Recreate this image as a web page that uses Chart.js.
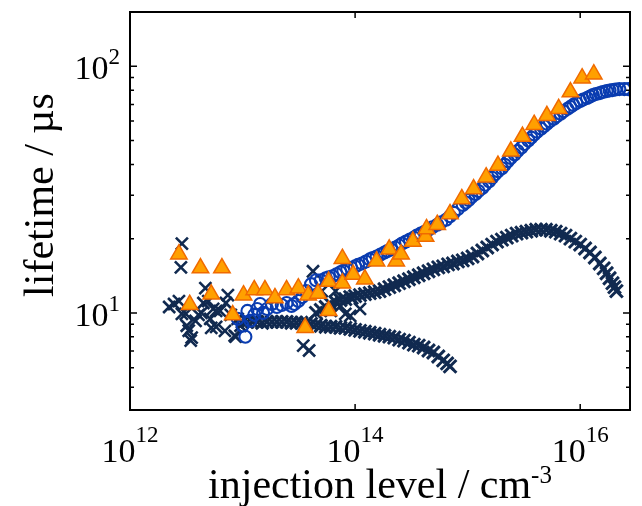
<!DOCTYPE html>
<html>
<head>
<meta charset="utf-8">
<script src="https://cdn.jsdelivr.net/npm/chart.js@4.4.1/dist/chart.umd.min.js"></script>
<style>
  html, body { margin: 0; padding: 0; background: #fff; }
  canvas { display: block; }
</style>
</head>
<body>
<canvas id="lifetimeChart" width="642" height="506"></canvas>
<script>
// orange triangles
var triX = [2.72e12, 3.39e12, 4.23e12, 5.27e12, 6.56e12, 8.18e12, 1.02e13, 1.27e13, 1.58e13, 1.94e13,
    2.46e13, 3.13e13, 3.83e13, 3.60e13, 4.68e13, 5.82e13, 5.82e13, 7.71e13, 7.71e13, 9.61e13,
    1.22e14, 1.55e14, 2.01e14, 2.32e14, 2.56e14, 3.26e14, 4.23e14, 4.31e14, 5.37e14, 6.97e14,
    8.87e14, 1.13e15, 1.46e15, 1.86e15, 2.42e15, 3.07e15, 3.90e15, 5.06e15, 6.44e15, 8.19e15,
    1.04e16, 1.32e16];
var triY = [17.3, 10.8, 15.2, 11.9, 15.2, 9.8, 11.8, 12.4, 12.4, 11.5,
    12.4, 12.6, 11.8, 8.7, 12.0, 13.4, 10.2, 16.6, 13.2, 14.3,
    13.7, 16.2, 18.1, 16.2, 17.3, 19.5, 20.4, 21.9, 22.8, 25.2,
    29.0, 31.8, 35.5, 39.6, 45.2, 51.9, 58.0, 63.0, 67.2, 78.6,
    89.5, 92.9];

// blue open circles
var circX = [9.05e12, 1.0e13, 1.06e13, 1.105e13, 1.174e13, 1.272e13, 1.35e13, 1.434e13, 1.522e13, 1.65e13,
    1.824e13, 2.016e13, 2.228e13, 2.462e13, 2.722e13, 2.891e13, 3.131e13, 3.392e13, 3.675e13, 4.062e13,
    4.489e13, 4.962e13, 5.484e13, 6.31e13, 7.406e13, 8.518e13, 1.0e14, 1.151e14, 1.35e14, 1.553e14,
    1.824e14, 2.098e14, 2.462e14, 2.833e14, 3.325e14, 3.823e14, 4.489e14, 5.376e14, 6.438e14, 7.554e14,
    9.05e14, 1.02e15, 1.174e15, 1.35e15, 1.553e15, 1.752e15, 2.016e15, 2.273e15, 2.615e15, 3.009e15,
    3.461e15, 3.903e15, 4.489e15, 5.062e15, 5.825e15, 6.70e15, 7.709e15, 8.694e15, 1.0e16, 1.151e16,
    1.297e16, 1.493e16, 1.717e16, 1.936e16, 2.228e16, 2.462e16, 2.668e16,
    5.825e13, 6.836e13, 7.864e13, 9.231e13, 1.062e14, 1.246e14, 1.434e14, 1.684e14, 1.936e14, 2.273e14,
    2.615e14, 3.069e14, 3.530e14, 4.144e14, 4.863e14, 5.825e14, 6.975e14, 8.185e14, 9.608e14, 1.083e15,
    1.246e15, 1.434e15, 1.650e15, 1.861e15, 2.140e15, 2.414e15, 2.777e15, 3.194e15, 3.675e15, 4.144e15,
    4.768e15, 5.376e15, 6.184e15, 7.115e15, 8.185e15, 9.231e15, 1.062e16, 1.222e16, 1.377e16, 1.585e16,
    1.824e16, 2.056e16];
var circY = [9.46, 8.87, 8.01, 10.19, 9.29, 9.82, 10.38, 10.87, 10.0, 10.38,
    10.87, 10.57, 10.77, 10.97, 10.67, 10.87, 11.17, 11.59, 12.26, 13.08,
    13.57, 13.57, 13.82, 14.08, 14.61, 15.02, 15.44, 15.87, 16.48, 16.94,
    17.58, 18.07, 18.76, 19.46, 20.20, 20.96, 21.75, 22.78, 23.86, 25.45,
    27.41, 28.71, 30.34, 32.07, 34.21, 36.50, 38.58, 41.17, 43.92, 46.85,
    49.99, 52.84, 55.85, 58.50, 61.26, 64.16, 67.20, 69.74, 72.36, 74.35,
    76.44, 77.87, 79.33, 80.07, 80.82, 80.82, 80.82,
    13.95, 14.34, 14.81, 15.23, 15.66, 16.17, 16.71, 17.26, 17.82, 18.41,
    19.10, 19.83, 20.57, 21.35, 22.25, 23.30, 24.64, 26.40, 28.04, 29.50,
    31.19, 33.11, 35.33, 37.52, 39.85, 42.51, 45.35, 48.39, 51.38, 54.31,
    57.14, 59.85, 62.68, 65.66, 68.45, 71.03, 73.37, 75.43, 77.19, 78.63,
    79.73, 80.47];

// navy crosses: scattered low-injection points
var crossScatterX = [2.228e12, 2.462e12, 2.722e12, 3.131e12, 3.325e12, 3.53e12, 3.823e12, 4.062e12, 4.489e12, 4.673e12,
    5.164e12, 5.484e12, 5.825e12, 6.31e12, 7.115e12, 7.406e12, 7.864e12, 8.694e12, 9.05e12, 2.891e12,
    2.833e12, 4.227e13, 3.461e13, 3.903e13, 6.70e13, 8.185e13, 9.416e13,
    2.891e12, 3.194e12, 3.461e12, 4.313e12, 5.27e12, 5.825e12, 6.975e12, 8.518e12, 9.608e12, 4.962e12,
    6.062e13, 7.406e13, 9.047e13, 1.105e14, 5.062e13];
var crossScatterY = [10.57, 10.87, 11.17, 9.91, 8.47, 7.94, 9.29, 9.82, 10.97, 12.60,
    9.46, 10.38, 8.78, 10.19, 10.97, 11.81, 9.82, 8.01, 9.46, 19.10,
    15.30, 14.75, 7.37, 7.04, 12.26, 9.91, 11.49,
    9.91, 8.87, 7.72, 10.0, 8.70, 10.19, 8.46, 8.08, 8.87, 11.17,
    10.19, 10.67, 9.73, 10.38, 12.26];

// navy crosses: decreasing branch
var crossLowX = [1.0e13, 1.105e13, 1.222e13, 1.350e13, 1.493e13, 1.650e13, 1.824e13, 2.016e13, 2.228e13, 2.462e13,
    2.722e13, 3.009e13, 3.325e13, 3.675e13, 4.062e13, 4.489e13, 4.962e13, 5.484e13, 6.062e13, 6.700e13,
    7.406e13, 8.185e13, 9.047e13, 1.0e14, 1.105e14, 1.222e14, 1.350e14, 1.493e14, 1.650e14, 1.824e14,
    2.016e14, 2.228e14, 2.462e14, 2.722e14, 3.009e14, 3.325e14, 3.675e14, 4.062e14, 4.489e14, 4.962e14,
    5.484e14, 6.062e14, 6.568e14, 6.975e14];
var crossLowY = [9.20, 9.20, 9.20, 9.20, 9.12, 9.20, 9.20, 9.20, 9.20, 9.20,
    9.12, 9.12, 9.12, 9.12, 9.03, 8.95, 8.87, 8.79, 8.79, 8.79,
    8.70, 8.70, 8.62, 8.54, 8.46, 8.39, 8.31, 8.24, 8.16, 8.08,
    8.01, 7.94, 7.79, 7.72, 7.58, 7.44, 7.37, 7.24, 7.04, 6.91,
    6.66, 6.42, 6.24, 6.07];

// navy crosses: rising branch with maximum
var crossHighX = [4.489e13, 4.962e13, 5.484e13, 6.062e13, 6.700e13, 7.406e13, 8.185e13, 9.047e13, 1.0e14, 1.105e14,
    1.222e14, 1.350e14, 1.493e14, 1.650e14, 1.824e14, 2.016e14, 2.228e14, 2.462e14, 2.722e14, 3.009e14,
    3.325e14, 3.675e14, 4.062e14, 4.489e14, 4.962e14, 5.484e14, 6.062e14, 6.700e14, 7.406e14, 8.185e14,
    9.047e14, 1.0e15, 1.105e15, 1.222e15, 1.350e15, 1.493e15, 1.650e15, 1.824e15, 2.016e15, 2.228e15,
    2.462e15, 2.722e15, 3.009e15, 3.325e15, 3.675e15, 4.062e15, 4.489e15, 4.962e15, 5.484e15, 6.062e15,
    6.700e15, 7.406e15, 8.185e15, 9.047e15, 1.0e16, 1.105e16, 1.222e16, 1.350e16, 1.493e16, 1.617e16,
    1.717e16, 1.824e16, 1.936e16, 2.016e16, 2.098e16];
var crossHighY = [10.00, 10.28, 10.57, 10.87, 11.07, 11.28, 11.38, 11.59, 11.70, 11.81,
    11.92, 12.03, 12.14, 12.26, 12.48, 12.72, 12.95, 13.20, 13.44, 13.69,
    13.95, 14.21, 14.48, 14.75, 15.02, 15.30, 15.44, 15.73, 15.87, 16.17,
    16.33, 16.63, 16.94, 17.42, 17.91, 18.41, 18.93, 19.46, 19.83, 20.20,
    20.57, 20.96, 21.15, 21.35, 21.54, 21.75, 21.75, 21.75, 21.54, 21.35,
    20.96, 20.57, 20.01, 19.46, 18.93, 18.24, 17.58, 16.78, 15.87, 15.16,
    14.48, 13.82, 13.20, 12.72, 12.26];

// axis ticks and labels
var xTicks = [1e12, 1e14, 1e16];
var xTickExp = ['12', '14', '16'];
var yTicks = [10, 100];
var yTickExp = ['1', '2'];
var yMinorTicks = [5, 6, 7, 8, 9, 20, 30, 40, 50, 60, 70, 80, 90];

var NAVY = '#112a50';
var BLUE = '#0a3cb0';
var SERIF = '"Liberation Serif", "Times New Roman", serif';

function pts(xs, ys) {
    return xs.map(function (x, i) { return { x: x, y: ys[i] }; });
}

function drawPow(ctx, exp, left, base, size, supSize, rise) {
    ctx.font = size + 'px ' + SERIF;
    ctx.fillText('10', left, base);
    var w = ctx.measureText('10').width;
    ctx.font = supSize + 'px ' + SERIF;
    ctx.fillText(exp, left + w, base - rise);
}

function powWidth(ctx, exp, size, supSize) {
    ctx.font = size + 'px ' + SERIF;
    var w = ctx.measureText('10').width;
    ctx.font = supSize + 'px ' + SERIF;
    return w + ctx.measureText(exp).width;
}

// frame, inward ticks, labels with superscripts, axis titles
var axesPlugin = {
    id: 'axesPlugin',
    afterDraw: function (chart) {
        var ctx = chart.ctx;
        var a = chart.chartArea;
        var x = chart.scales.x, y = chart.scales.y;
        ctx.save();
        ctx.strokeStyle = '#000';
        ctx.lineWidth = 1.5;
        ctx.beginPath();
        xTicks.forEach(function (v) {
            var px = x.getPixelForValue(v);
            ctx.moveTo(px, a.bottom); ctx.lineTo(px, a.bottom - 6);
            ctx.moveTo(px, a.top); ctx.lineTo(px, a.top + 6);
        });
        yTicks.forEach(function (v) {
            var py = y.getPixelForValue(v);
            ctx.moveTo(a.left, py); ctx.lineTo(a.left + 7, py);
            ctx.moveTo(a.right, py); ctx.lineTo(a.right - 7, py);
        });
        yMinorTicks.forEach(function (v) {
            var py = y.getPixelForValue(v);
            ctx.moveTo(a.left, py); ctx.lineTo(a.left + 4, py);
            ctx.moveTo(a.right, py); ctx.lineTo(a.right - 4, py);
        });
        ctx.stroke();
        ctx.lineWidth = 2;
        ctx.strokeRect(a.left, a.top, a.right - a.left, a.bottom - a.top);

        ctx.fillStyle = '#000';
        ctx.textAlign = 'left';
        ctx.textBaseline = 'alphabetic';
        xTicks.forEach(function (v, i) {
            var px = x.getPixelForValue(v);
            var w = powWidth(ctx, xTickExp[i], 34, 23);
            drawPow(ctx, xTickExp[i], px - w / 2, a.bottom + 52, 34, 23, 20);
        });
        yTicks.forEach(function (v, i) {
            var py = y.getPixelForValue(v);
            var w = powWidth(ctx, yTickExp[i], 34, 23);
            drawPow(ctx, yTickExp[i], a.left - 10 - w, py + 13, 34, 23, 15);
        });

        // x title
        ctx.font = '42px ' + SERIF;
        var t = 'injection level / cm';
        var tw = ctx.measureText(t).width;
        ctx.font = '25px ' + SERIF;
        var sw = ctx.measureText('-3').width;
        var sx = (a.left + a.right) / 2 - (tw + sw) / 2;
        ctx.font = '42px ' + SERIF;
        ctx.fillText(t, sx, 498);
        ctx.font = '25px ' + SERIF;
        ctx.fillText('-3', sx + tw, 483);

        // y title
        ctx.save();
        ctx.translate(53, 195);
        ctx.rotate(-Math.PI / 2);
        ctx.font = '42px ' + SERIF;
        ctx.textAlign = 'center';
        ctx.fillText('lifetime / \u00b5s', 0, 0);
        ctx.restore();
        ctx.restore();
    }
};

var ctx = document.getElementById('lifetimeChart').getContext('2d');
var lifetimeChart = new Chart(ctx, {
    type: 'scatter',
    data: {
        datasets: [{
            label: 'triangles',
            data: pts(triX, triY),
            pointStyle: 'triangle',
            pointRadius: 9.5,
            pointBackgroundColor: '#ffa000',
            pointBorderColor: '#f06a00',
            pointBorderWidth: 1.5
        }, {
            label: 'circles',
            data: pts(circX, circY),
            pointStyle: 'circle',
            pointRadius: 6,
            pointBackgroundColor: 'rgba(0,0,0,0)',
            pointBorderColor: BLUE,
            pointBorderWidth: 2.1
        }, {
            label: 'crosses high',
            data: pts(crossHighX, crossHighY),
            pointStyle: 'crossRot',
            pointRadius: 9,
            pointBorderColor: NAVY,
            pointBorderWidth: 3
        }, {
            label: 'crosses low',
            data: pts(crossLowX, crossLowY),
            pointStyle: 'crossRot',
            pointRadius: 9,
            pointBorderColor: NAVY,
            pointBorderWidth: 3
        }, {
            label: 'crosses scatter',
            data: pts(crossScatterX, crossScatterY),
            pointStyle: 'crossRot',
            pointRadius: 8.5,
            pointBorderColor: NAVY,
            pointBorderWidth: 2.6
        }]
    },
    options: {
        responsive: false,
        animation: false,
        layout: { padding: { top: 8, right: 1, left: 0, bottom: 0 } },
        plugins: {
            legend: { display: false },
            tooltip: { enabled: false }
        },
        scales: {
            x: {
                type: 'logarithmic',
                min: 1e12,
                max: 2.77e16,
                ticks: { display: false },
                grid: { display: false, drawTicks: false },
                border: { display: false },
                afterFit: function (s) { s.height = 96; }
            },
            y: {
                type: 'logarithmic',
                min: 4.04,
                max: 166,
                ticks: { display: false },
                grid: { display: false, drawTicks: false },
                border: { display: false },
                afterFit: function (s) { s.width = 130; }
            }
        }
    },
    plugins: [axesPlugin]
});
</script>
</body>
</html>
